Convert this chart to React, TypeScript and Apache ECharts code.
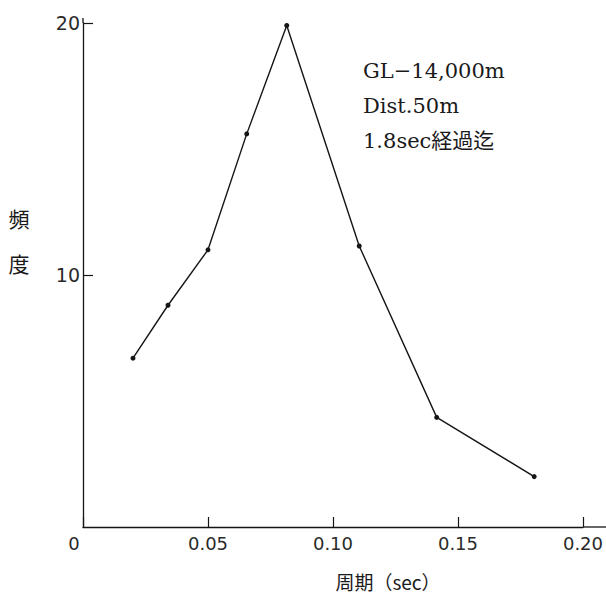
import React, { useEffect, useRef } from "react";
import * as echarts from "echarts";

const periods = [0.02, 0.034, 0.05, 0.0655, 0.0815, 0.1105, 0.1415, 0.1805];
const frequencies = [6.7, 8.8, 11.0, 15.6, 19.9, 11.15, 4.35, 2.0];
const xTicks = [0, 0.05, 0.1, 0.15, 0.2];
const yTicks = [0, 10, 20];
const noteLines = ["GL−14,000m", "Dist.50m", "1.8sec経過迄"];
const yName = ["頻", "度"];
const xName = "周期（sec）";

export default function App() {
  const ref = useRef<HTMLDivElement>(null);
  useEffect(() => {
    if (!ref.current) return;
    const chart = echarts.init(ref.current, undefined, { renderer: "svg" });
    const ink = "#151515";
    const data = periods.map((p, i) => [p, frequencies[i]]);
    chart.setOption({
      animation: false,
      backgroundColor: "#ffffff",
      grid: { left: 83, right: 23, top: 23, bottom: 72, containLabel: false },
      xAxis: {
        type: "value",
        min: xTicks[0],
        max: xTicks[xTicks.length - 1],
        interval: 0.05,
        axisLine: { show: true, onZero: false, lineStyle: { color: ink, width: 1.3 } },
        axisTick: { show: true, inside: true, length: 10, lineStyle: { color: ink, width: 1.2 } },
        splitLine: { show: false },
        axisLabel: {
          margin: 7,
          fontSize: 18,
          color: "#2a2a2a",
          fontFamily: "'DejaVu Sans', sans-serif",
          formatter: (v: number) => (v === 0 ? "{z|0}" : v.toFixed(2)),
          rich: { z: { fontSize: 18, color: "#2a2a2a", fontFamily: "'DejaVu Sans', sans-serif", padding: [0, 18, 0, 0] } },
        },
      },
      yAxis: {
        type: "value",
        min: yTicks[0],
        max: yTicks[yTicks.length - 1],
        interval: 10,
        axisLine: { show: true, onZero: false, lineStyle: { color: ink, width: 1.3 } },
        axisTick: { show: true, inside: true, length: 10, lineStyle: { color: ink, width: 1.2 } },
        splitLine: { show: false },
        axisLabel: {
          margin: 3,
          fontSize: 19,
          color: "#2a2a2a",
          fontFamily: "'DejaVu Sans', sans-serif",
          showMinLabel: false,
        },
      },
      series: [
        {
          type: "line",
          data,
          symbol: "circle",
          symbolSize: 5,
          itemStyle: { color: ink },
          lineStyle: { color: ink, width: 1.4 },
        },
      ],
      graphic: [
        { type: "line", shape: { x1: 583, y1: 527, x2: 606, y2: 527 }, style: { stroke: ink, lineWidth: 1.3 } },
        { type: "line", shape: { x1: 83, y1: 23, x2: 83, y2: 18 }, style: { stroke: ink, lineWidth: 1.3 } },
        ...noteLines.map((t, i) => ({
          type: "text",
          x: 363,
          y: 71 + i * 35,
          style: {
            text: t,
            fill: "#1a1a1a",
            font: "21px 'DejaVu Serif', 'Noto Sans CJK JP', serif",
            textVerticalAlign: "middle",
          },
        })),
        ...yName.map((t, i) => ({
          type: "text",
          x: 19,
          y: 218 + i * 45,
          style: {
            text: t,
            fill: "#1a1a1a",
            font: "21px 'Noto Sans CJK JP', sans-serif",
            textAlign: "center",
            textVerticalAlign: "middle",
          },
        })),
        {
          type: "text",
          x: 388,
          y: 581,
          style: {
            text: xName,
            fill: "#1a1a1a",
            font: "19px 'Noto Sans CJK JP', sans-serif",
            textAlign: "center",
            textVerticalAlign: "middle",
          },
        },
      ],
    });
    return () => chart.dispose();
  }, []);
  return (
    <div
      ref={ref}
      style={{ position: "fixed", left: 0, top: 0, width: 606, height: 599, background: "#fff" }}
    />
  );
}
